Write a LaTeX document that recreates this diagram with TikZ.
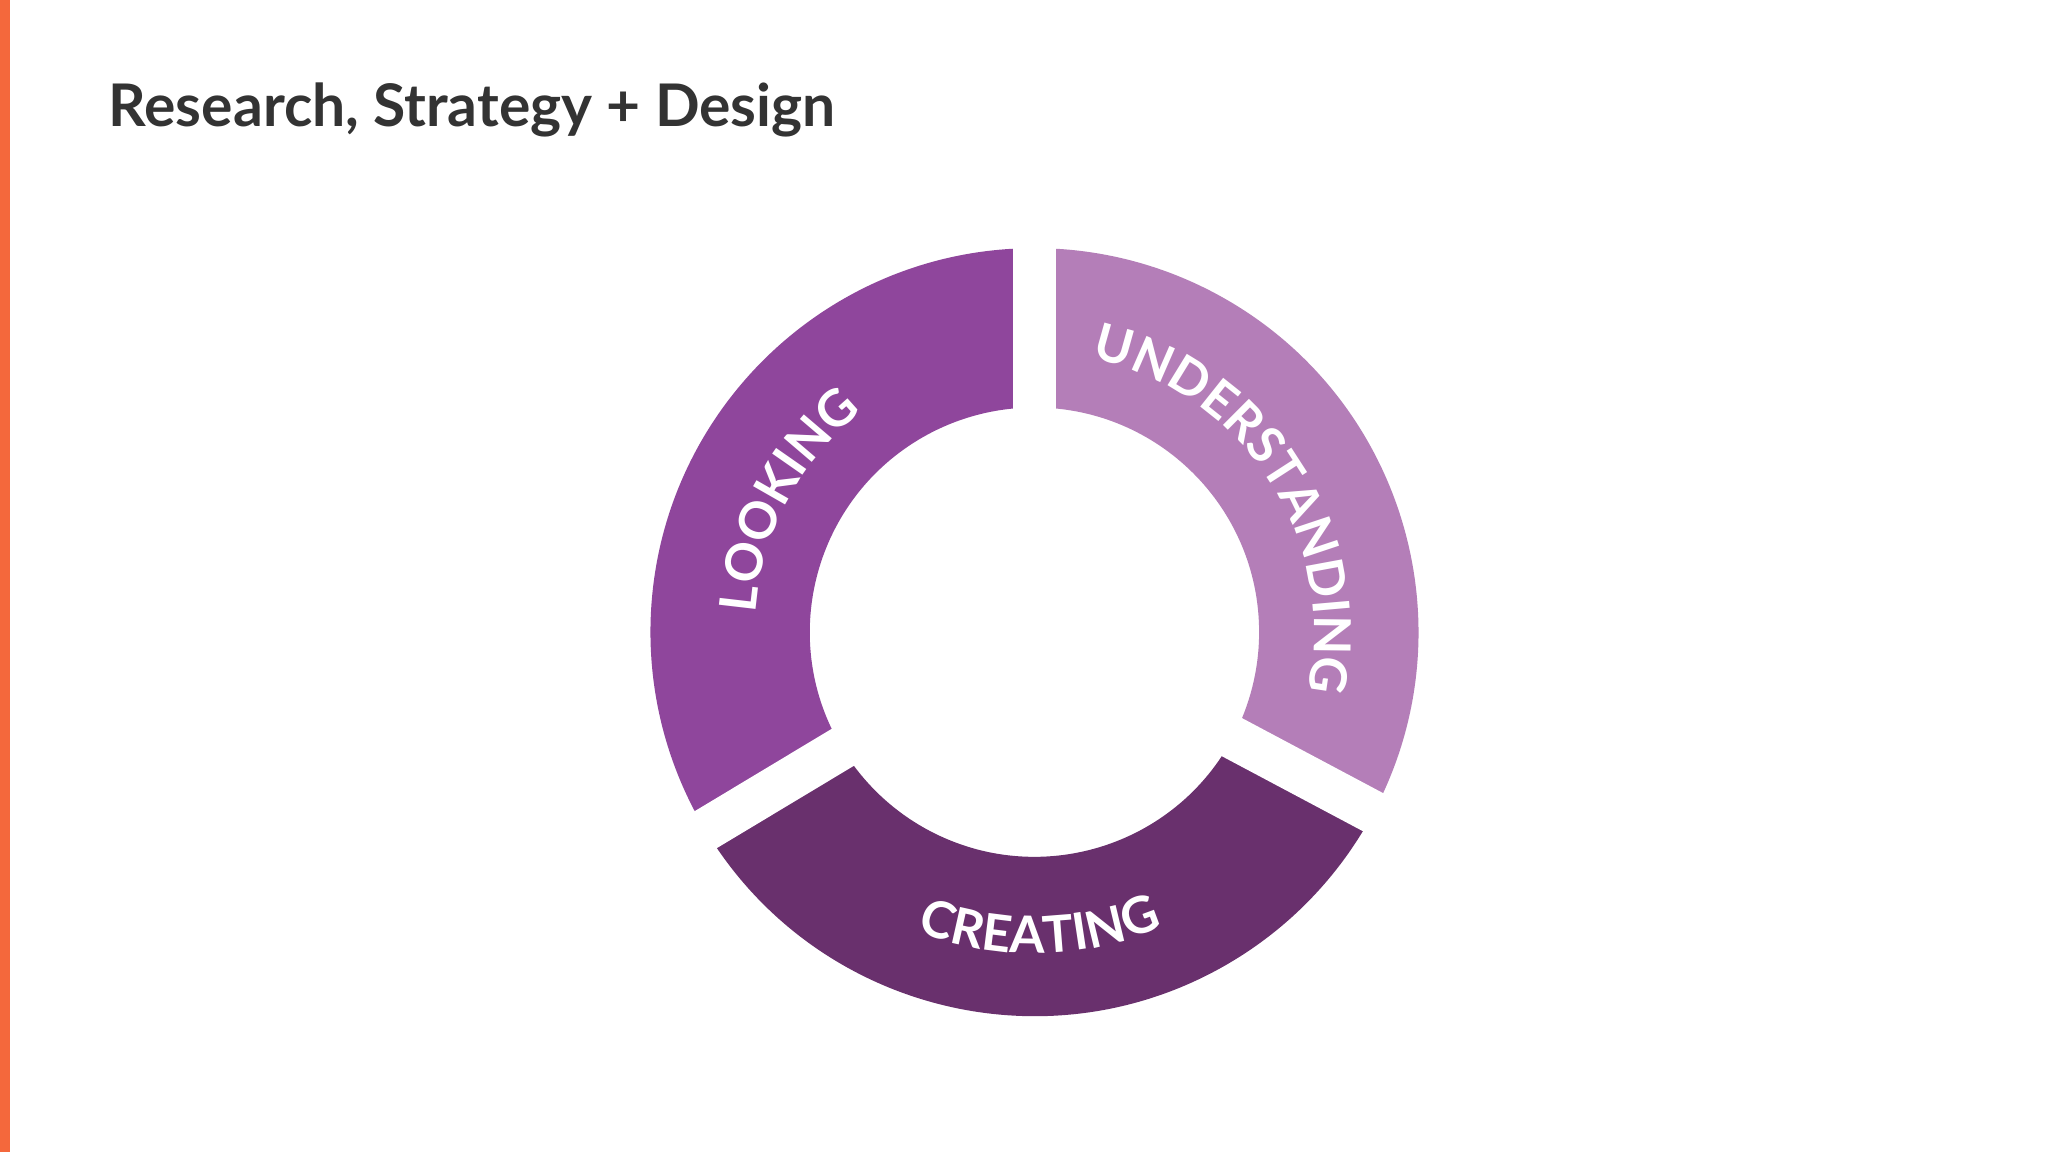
\documentclass[tikz,border=0pt]{standalone}
\usepackage{fontspec}
\setmainfont{Lato}
\usetikzlibrary{decorations.text}
\definecolor{lookc}{HTML}{8F469C}
\definecolor{undc}{HTML}{B47EB8}
\definecolor{crec}{HTML}{69306D}
\definecolor{barc}{HTML}{F4683C}
\definecolor{titc}{HTML}{333333}
\tikzset{
  seglabel/.style={decorate,decoration={text along path,text align=center,text color=white}},
  gap/.style={white,line width=33pt}
}
\begin{document}
\begin{tikzpicture}[x=1pt,y=1pt]
\fill[white] (0,0) rectangle (1568,882);
\fill[barc] (0,0) rectangle (8,882);
\node[anchor=base west,text=titc,font=\fontsize{45}{54}\selectfont\bfseries,inner sep=0] (title) at (83,785) {Research, Strategy + Design};
\begin{scope}[shift={(792,398)}]
\fill[lookc] (90:294) arc[start angle=90,end angle=211,radius=294] -- (211:172) arc[start angle=211,end angle=90,radius=172] -- cycle;
\fill[crec] (211:294) arc[start angle=211,end angle=332,radius=294] -- (332:172) arc[start angle=332,end angle=211,radius=172] -- cycle;
\fill[undc] (-28:294) arc[start angle=-28,end angle=90,radius=294] -- (90:172) arc[start angle=90,end angle=-28,radius=172] -- cycle;
\draw[gap] (0,0) -- (90:310);
\draw[gap] (0,0) -- (211:310);
\draw[gap] (0,0) -- (332:310);
\path[seglabel,decoration={text={|\fontsize{39}{39}\selectfont\bfseries|LOOKING}}] (182:214) arc[start angle=182,end angle=122,radius=214];
\path[seglabel,decoration={text={|\fontsize{39}{39}\selectfont\bfseries|UNDERSTANDING}}] (80:214) arc[start angle=80,end angle=-14,radius=214];
\path[seglabel,decoration={text={|\fontsize{39}{39}\selectfont\bfseries|CREATING}}] (240:246) arc[start angle=240,end angle=302,radius=246];
\end{scope}
\end{tikzpicture}
\end{document}
